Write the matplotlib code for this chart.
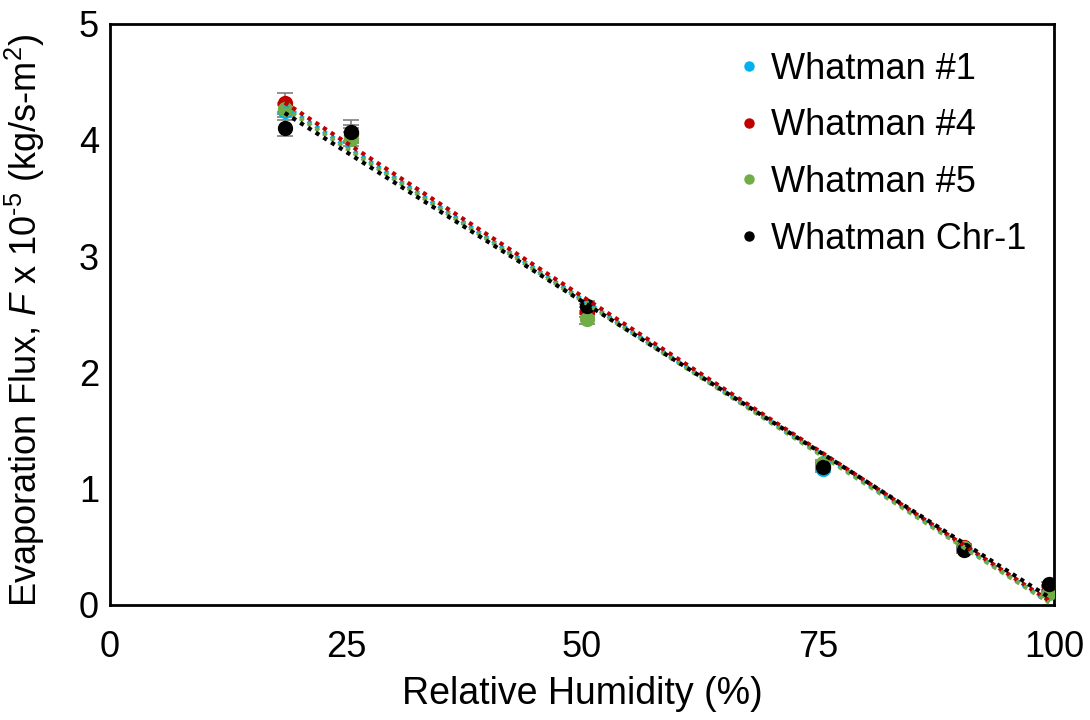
import numpy as np
import matplotlib.pyplot as plt

plt.rcParams['font.family'] = ['Liberation Sans', 'DejaVu Sans']
plt.rcParams['mathtext.fontset'] = 'custom'
plt.rcParams['mathtext.rm'] = 'Liberation Sans'
plt.rcParams['mathtext.it'] = 'Liberation Sans:italic'

rh = [18.5, 25.5, 50.5, 75.5, 90.5, 99.5]

flux_w1 = [4.25, 4.04, 2.55, 1.17, 0.48, 0.13]
flux_w4 = [4.32, 4.06, 2.52, 1.20, 0.50, 0.15]
flux_w5 = [4.27, 4.01, 2.46, 1.22, 0.49, 0.10]
flux_chr = [4.10, 4.07, 2.57, 1.19, 0.47, 0.18]

err_w1 = [0.05, 0.06, 0.04, 0.03, 0.02, 0.02]
err_w4 = [0.08, 0.07, 0.04, 0.03, 0.02, 0.02]
err_w5 = [0.05, 0.06, 0.04, 0.03, 0.02, 0.02]
err_chr = [0.07, 0.10, 0.04, 0.03, 0.02, 0.02]

labels = ['Whatman #1', 'Whatman #4', 'Whatman #5', 'Whatman Chr-1']
colors = ['#00B0F0', '#C00000', '#70AD47', '#000000']
fluxes = [flux_w1, flux_w4, flux_w5, flux_chr]
errors = [err_w1, err_w4, err_w5, err_chr]

fig = plt.figure(figsize=(10.9, 7.2), dpi=100)
ax = fig.add_axes([0.101, 0.160, 0.866, 0.807])

x = np.array(rh)
for lab, c, f, e in zip(labels, colors, fluxes, errors):
    ax.errorbar(x, f, yerr=e, fmt='none', ecolor='#7f7f7f', elinewidth=1.2,
                capsize=6, capthick=1.2, zorder=2)
    ax.plot(x, f, 'o', color=c, markersize=10, label=lab, zorder=3)

# linear trend lines
for c, f in zip(colors, fluxes):
    m, b = np.polyfit(x, f, 1)
    xs = np.array([x[0], x[-1]])
    ax.plot(xs, m * xs + b, linestyle=(0, (1, 1.2)), color=c, linewidth=3,
            zorder=4)

ax.set_xlim(0, 100)
ax.set_ylim(0, 5)
ax.set_xticks([0, 25, 50, 75, 100])
ax.set_yticks([0, 1, 2, 3, 4, 5])
ax.tick_params(length=0, labelsize=26)
ax.tick_params(axis='x', pad=18)
ax.tick_params(axis='y', pad=8)

for s in ax.spines.values():
    s.set_linewidth(2)
    s.set_color('black')

ax.set_xlabel('Relative Humidity (%)', fontsize=27, labelpad=8)
ax.set_ylabel(r'Evaporation Flux, $\it{F}$ x 10$^{\text{-5}}$ (kg/s-m$^{\mathregular{2}}$)',
              fontsize=26)
ax.yaxis.set_label_coords(-0.067, 0.49)

ax.legend(loc='upper right', fontsize=26, frameon=False, handletextpad=0.0,
          markerscale=0.65, labelspacing=0.6, borderaxespad=0.37,
          handlelength=1.2)

fig.savefig('out.png', dpi=100)
